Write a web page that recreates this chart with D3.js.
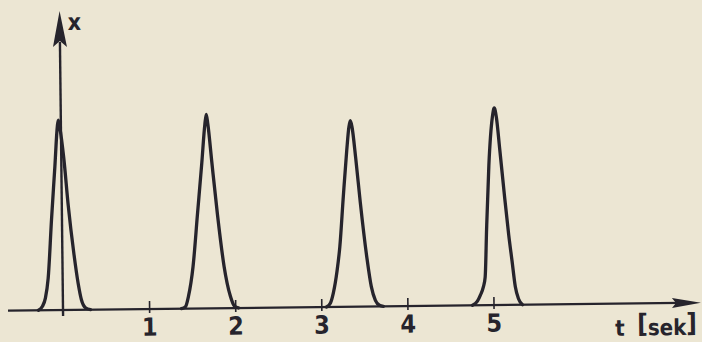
<!DOCTYPE html>
<html><head><meta charset="utf-8">
<script src="https://cdn.jsdelivr.net/npm/d3@7"></script>
<style>html,body{margin:0;padding:0;background:#ece6d3;}svg{display:block}</style>
</head><body><script>
// ---- data ----
const tickValues = [1, 2, 3, 4, 5];
const tickLabels = ["1", "2", "3", "4", "5"];
const labelY = "x";
const labelT = "t";
const labelUnit = "sek";
// pulses: [t (s), x (relative units)]
const peak1 = [[-0.285,0],[-0.238,2],[-0.203,6],[-0.168,16],[-0.122,45],[-0.075,72],[-0.041,92],[-0.029,95],[-0.012,91],[0.029,76],[0.075,52],[0.134,28],[0.180,13],[0.215,5],[0.261,1],[0.319,0]];
const peak2 = [[1.376,0],[1.423,1],[1.458,6],[1.516,21],[1.574,47],[1.632,73],[1.672,92],[1.690,97],[1.707,92],[1.748,73],[1.806,47],[1.876,21],[1.945,6],[1.991,1],[2.038,0]];
const peak3 = [[3.060,0],[3.107,2],[3.142,7],[3.188,18],[3.223,30],[3.270,55],[3.316,78],[3.345,90],[3.362,93],[3.380,90],[3.420,74],[3.467,52],[3.537,24],[3.583,10],[3.629,3],[3.676,0.5],[3.722,0]];
const peak4 = [[4.756,0],[4.814,2],[4.849,5],[4.884,9],[4.907,14],[4.930,38],[4.965,70],[5.012,94],[5.035,98.5],[5.058,94],[5.093,78],[5.139,56],[5.186,35],[5.221,22],[5.256,9],[5.291,3],[5.337,0]];
const peaks = [peak1, peak2, peak3, peak4];

// ---- drawing ----
const W = 702, H = 342;
const ink = "#26242c";
const font = "'Liberation Sans Narrow','DejaVu Sans Condensed','Roboto',sans-serif";
const x = d3.scaleLinear().domain([-0.639, 7.398]).range([8, 700]);
const y = d3.scaleLinear().domain([0, 100]).range([310, 110]);

const svg = d3.select("body").append("svg").attr("width", W).attr("height", H);
svg.append("rect").attr("width", W).attr("height", H).attr("fill", "#ece6d3");

const g = svg.append("g").attr("transform", `rotate(-0.66,${x(0)},${y(0)})`);

// x axis line + arrow
g.append("line").attr("x1", x.range()[0]).attr("x2", 680)
  .attr("y1", y(0)).attr("y2", y(0)).attr("stroke", ink).attr("stroke-width", 2.2);
g.append("path")
  .attr("d", `M${x.range()[1]+1},${y(0)} L${x.range()[1]-28},${y(0)-5} L${x.range()[1]-24},${y(0)} L${x.range()[1]-28},${y(0)+5} Z`)
  .attr("fill", ink);

// ticks
const ax = g.append("g").attr("transform", `translate(0,${y(0)})`)
  .call(d3.axisBottom(x).tickValues(tickValues).tickFormat((d, i) => tickLabels[i]).tickSize(0).tickPadding(9));
ax.select(".domain").remove();
ax.selectAll(".tick line").attr("y1", -8).attr("y2", 4).attr("stroke", ink).attr("stroke-width", 1.6);
ax.selectAll(".tick text").attr("font-family", font).attr("font-size", 25).attr("font-weight", "bold").attr("fill", ink);

// y axis + arrow
const x0 = x(0);
g.append("line").attr("x1", x0).attr("x2", x0).attr("y1", y(0) + 6).attr("y2", 42)
  .attr("stroke", ink).attr("stroke-width", 2.4);
g.append("path").attr("d", `M${x0},11 L${x0-7},47 L${x0},41 L${x0+7},47 Z`).attr("fill", ink);

// pulses
const line = d3.line().x(d => x(d[0])).y(d => y(d[1])).curve(d3.curveMonotoneX);
g.selectAll("path.peak").data(peaks).join("path").attr("class", "peak")
  .attr("d", line).attr("fill", "none").attr("stroke", ink)
  .attr("stroke-width", 3.3).attr("stroke-linejoin", "round").attr("stroke-linecap", "round");

// labels
g.append("text").attr("x", x0 + 8).attr("y", 30).text(labelY)
  .attr("font-family", font).attr("font-size", 23).attr("font-weight", "bold").attr("fill", ink);
const tl = g.append("text").attr("y", 342).attr("font-family", font).attr("font-weight", "bold").attr("fill", ink);
tl.append("tspan").attr("x", 615).attr("font-size", 22).text(labelT);
tl.append("tspan").attr("x", 637).attr("font-size", 26).attr("dy", -3).text("[");
tl.append("tspan").attr("font-size", 22).attr("dy", 3).text(labelUnit);
tl.append("tspan").attr("font-size", 26).attr("dy", -3).text("]");
</script></body></html>
